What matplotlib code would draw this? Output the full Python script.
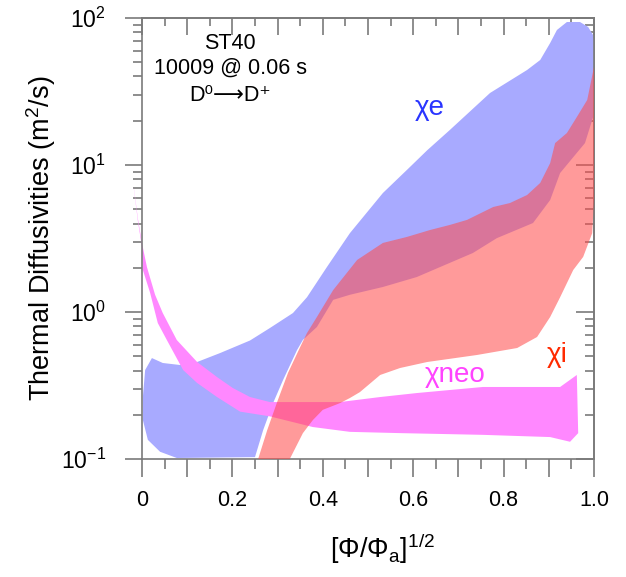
import matplotlib
matplotlib.use('Agg')
import matplotlib.pyplot as plt
from matplotlib.ticker import MultipleLocator, LogLocator, NullFormatter, FuncFormatter
import numpy as np

plt.rcParams['font.family'] = ['Liberation Sans', 'DejaVu Sans']
plt.rcParams['mathtext.fontset'] = 'custom'
plt.rcParams['mathtext.rm'] = 'Liberation Sans'
plt.rcParams['mathtext.it'] = 'Liberation Sans:italic'

# Outline of the chi_e uncertainty band, x = [Phi/Phi_a]^1/2, y in m^2/s
chie_x = [0.022, 0.046, 0.084, 0.122, 0.173, 0.239, 0.283, 0.334, 0.365, 0.409,
          0.460, 0.533, 0.586, 0.631, 0.681, 0.770, 0.852, 0.881, 0.903, 0.918,
          0.940, 0.969, 0.987, 0.998, 1.0, 1.0, 0.998, 0.980, 0.954, 0.925,
          0.903, 0.865, 0.785, 0.732, 0.659, 0.608, 0.533, 0.460, 0.423, 0.387,
          0.356, 0.343, 0.312, 0.290, 0.268, 0.250, 0.077, 0.040, 0.013, 0.002,
          0.002, 0.007]
chie_y = [0.486, 0.450, 0.436, 0.457, 0.526, 0.640, 0.778, 0.984, 1.26, 2.02,
          3.44, 6.45, 9.25, 12.6, 17.3, 30.9, 44.3, 51.8, 67.6, 82.9,
          93.9, 93.9, 86.9, 76.6, 70.0, 29.9, 21.2, 14.1, 11.3, 8.82,
          5.78, 4.03, 3.18, 2.52, 2.02, 1.73, 1.48, 1.31, 1.21, 0.791,
          0.646, 0.551, 0.344, 0.240, 0.157, 0.103, 0.1016, 0.112, 0.135, 0.184,
          0.264, 0.403]

# chi_i band outline
chii_x = [0.257, 0.277, 0.299, 0.323, 0.350, 0.365, 0.387, 0.423, 0.476, 0.533,
          0.586, 0.637, 0.681, 0.719, 0.777, 0.814, 0.852, 0.881, 0.903, 0.914,
          0.940, 0.962, 0.985, 1.0, 1.0, 0.996, 0.976, 0.954, 0.925, 0.903,
          0.874, 0.830, 0.741, 0.631, 0.571, 0.527, 0.482, 0.460, 0.438, 0.400,
          0.378, 0.356, 0.327]
chii_y = [0.1, 0.157, 0.244, 0.385, 0.578, 0.719, 0.925, 1.41, 2.26, 2.95,
          3.24, 3.61, 3.91, 4.23, 5.18, 5.51, 6.25, 7.55, 10.3, 14.1,
          16.5, 21.2, 27.7, 46.5, 5.78, 3.44, 2.37, 1.93, 1.26, 0.925,
          0.676, 0.569, 0.510, 0.457, 0.416, 0.373, 0.285, 0.260, 0.240, 0.216,
          0.184, 0.150, 0.1]

# chi_neo band outline
chineo_x = [-0.018, -0.009, 0.0, 0.011, 0.029, 0.046, 0.077, 0.122, 0.166, 0.201,
            0.239, 0.283, 0.350, 0.438, 0.527, 0.608, 0.754, 0.925, 0.962, 0.965,
            0.947, 0.903, 0.754, 0.571, 0.460, 0.378, 0.283, 0.217, 0.166, 0.122,
            0.091, 0.055, 0.035, 0.018, 0.002, 0.0, -0.009, -0.018]
chineo_y = [7.0, 4.3, 2.94, 2.02, 1.31, 0.984, 0.645, 0.457, 0.361, 0.304,
            0.264, 0.244, 0.244, 0.244, 0.264, 0.281, 0.309, 0.309, 0.373, 0.150,
            0.131, 0.141, 0.146, 0.150, 0.153, 0.165, 0.195, 0.210, 0.264, 0.329,
            0.403, 0.645, 0.841, 1.35, 1.93, 2.77, 4.15, 6.9]

x_ticks = [0, 0.1, 0.2, 0.3, 0.4, 0.5, 0.6, 0.7, 0.8, 0.9, 1.0]
x_ticklabels = ['0', '', '0.2', '', '0.4', '', '0.6', '', '0.8', '', '1.0']

grey = '#7a7a7a'


def decade_label(v, pos):
    return r'10$^\mathregular{%d}$' % int(round(np.log10(v)))


fig = plt.figure(figsize=(6.26, 5.77), dpi=100)
ax = fig.add_axes([0.2268, 0.2045, 0.7221, 0.7643])

ax.fill(chie_x, chie_y, color='#a8aaff', lw=0, zorder=1)
ax.fill(chineo_x, chineo_y, color='#ff88ff', lw=0, zorder=2, clip_on=False)
ax.fill(chii_x, chii_y, color=(1.0, 0.3, 0.3), alpha=0.57, lw=0, zorder=3)

ax.set_yscale('log')
ax.set_xlim(0, 1)
ax.set_ylim(0.1, 100)

ax.set_xticks(x_ticks)
ax.set_xticklabels(x_ticklabels)
ax.xaxis.set_minor_locator(MultipleLocator(0.05))
ax.yaxis.set_major_locator(LogLocator(base=10))
ax.yaxis.set_major_formatter(FuncFormatter(decade_label))
ax.yaxis.set_minor_locator(LogLocator(base=10, subs=range(2, 10)))
ax.yaxis.set_minor_formatter(NullFormatter())

ax.tick_params(which='both', direction='out', color=grey, width=1.2,
               top=False, right=False, labelsize=15.5)
ax.tick_params(axis='x', which='major', length=13, pad=9)
ax.tick_params(axis='x', which='minor', length=7)
ax.tick_params(axis='y', which='major', length=12, pad=14)
ax.tick_params(axis='y', which='minor', length=6.5)
ax.tick_params(axis='y', which='major', labelsize=16.5)

for s in ax.spines.values():
    s.set_color(grey)
    s.set_linewidth(1.2)

# inward ticks on top and right
top = ax.secondary_xaxis('top')
top.set_xticks(x_ticks)
top.xaxis.set_minor_locator(MultipleLocator(0.05))
top.tick_params(which='both', direction='in', color=grey, width=1.2, labeltop=False)
top.tick_params(which='major', length=12)
top.tick_params(which='minor', length=6)
top.spines['top'].set_color(grey)
top.spines['top'].set_linewidth(1.2)

right = ax.secondary_yaxis('right')
right.yaxis.set_major_locator(LogLocator(base=10))
right.yaxis.set_minor_locator(LogLocator(base=10, subs=range(2, 10)))
right.tick_params(which='both', direction='in', color=grey, width=1.2, labelright=False)
right.tick_params(which='major', length=13)
right.tick_params(which='minor', length=6.5)
right.spines['right'].set_color(grey)
right.spines['right'].set_linewidth(1.2)

ax.set_xlabel(r'[Φ/Φ$_\mathregular{a}$]$^\mathregular{1/2}$', fontsize=19.5)
ax.xaxis.set_label_coords(0.533, -0.165)
ax.set_ylabel(r'Thermal Diffusivities (m$^\mathregular{2}$/s)', fontsize=19.5)
ax.yaxis.set_label_coords(-0.185, 0.5)

ax.text(0.195, 0.943, 'ST40', transform=ax.transAxes, ha='center', va='center', fontsize=15.5)
ax.text(0.195, 0.887, '10009 @ 0.06 s', transform=ax.transAxes, ha='center', va='center', fontsize=15.5)
ax.text(0.195, 0.825, 'D⁰⟶D⁺', transform=ax.transAxes,
        ha='center', va='center', fontsize=15.5)

ax.text(0.637, 24.4, 'χe', color='#2a35ff', ha='center', va='center', fontsize=20, zorder=5)
ax.text(0.918, 0.509, 'χi', color='#ff2a00', ha='center', va='center', fontsize=20, zorder=5)
ax.text(0.692, 0.372, 'χneo', color='#ff44ff', ha='center', va='center', fontsize=20, zorder=5)

fig.savefig('out.png', dpi=100)
